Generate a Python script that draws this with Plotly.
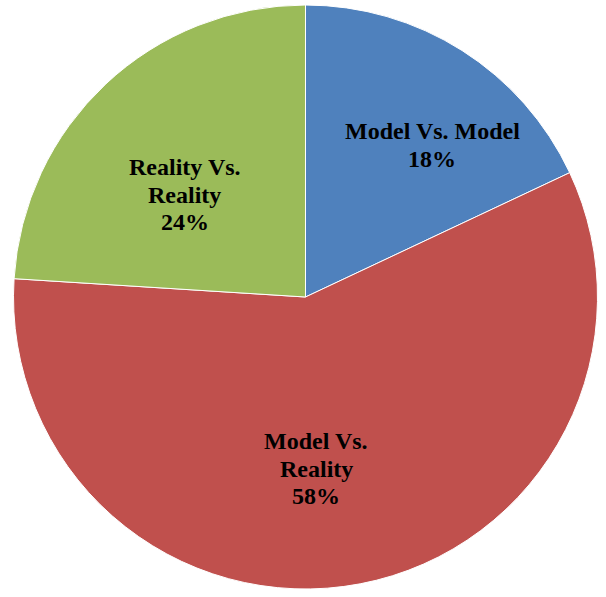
import plotly.graph_objects as go

categories = ["Model Vs. Model", "Model Vs. Reality", "Reality Vs. Reality"]
values = [18, 58, 24]
label_lines = [["Model Vs. Model"], ["Model Vs.", "Reality"], ["Reality Vs.", "Reality"]]
colors = ["#4F81BD", "#C0504D", "#9BBB59"]

W, H = 606, 597
# label block layout in pixels: centre x, middle y of first line, line step
label_pos = [(432, 131, 28), (316, 441, 27.5), (185, 167, 27.5)]

fig = go.Figure(go.Pie(
    labels=categories,
    values=values,
    sort=False,
    direction="clockwise",
    rotation=0,
    marker=dict(colors=colors, line=dict(color="white", width=1)),
    textinfo="none",
    hoverinfo="label+percent",
    showlegend=False,
    domain=dict(x=[13 / W, 598 / W], y=[1 - 589 / H, 1 - 5 / H]),
))

total = sum(values)
for lines, v, (px, py, step) in zip(label_lines, values, label_pos):
    all_lines = lines + [f"{round(100 * v / total)}%"]
    for i, ln in enumerate(all_lines):
        fig.add_annotation(
            x=px / W, y=1 - (py + i * step) / H, xref="paper", yref="paper",
            text=f"<b>{ln}</b>",
            showarrow=False, xanchor="center", yanchor="middle",
            font=dict(family="Liberation Serif, Times New Roman, serif", size=24, color="black"),
            align="center",
        )

fig.update_layout(
    width=W, height=H,
    margin=dict(l=0, r=0, t=0, b=0),
    paper_bgcolor="white",
    plot_bgcolor="white",
)

fig.write_html("out.html", config={"displayModeBar": False},
               post_script="document.body.style.margin='0';")
